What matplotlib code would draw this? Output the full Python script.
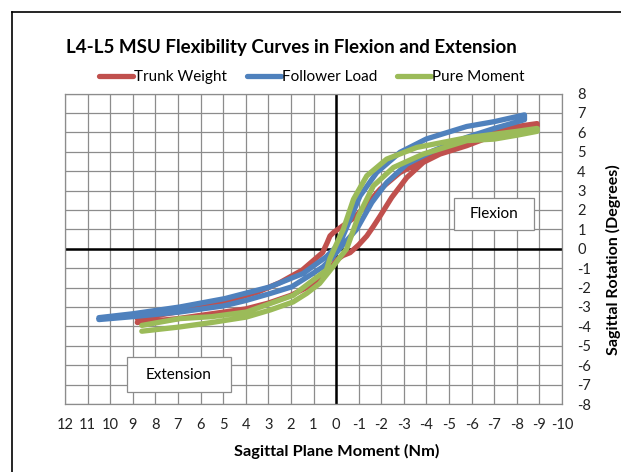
import matplotlib.pyplot as plt
from matplotlib.lines import Line2D
from matplotlib.patches import Rectangle

plt.rcParams["font.family"] = ["Lato", "DejaVu Sans"]
plt.rcParams["axes.unicode_minus"] = False

# Trunk Weight loop: loading branch (to flexion), then unloading branch back
trunk_x = [8.8, 7, 5.5, 4, 3, 2, 1.3, 0.7, 0.3, 0, -0.3, -0.62, -1.0, -1.36, -1.65, -1.95, -2.46,
           -3.13, -3.86, -4.6, -5.78, -7, -8, -8.9,
           -8.9, -8, -7, -5.78, -4.3, -3.57, -2.83, -1.95, -1.3, -0.8, -0.32, 0.1, 0.27, 0.4,
           0.6, 1.0, 1.5, 2.5, 3.5, 5, 6.5, 8, 8.8]
trunk_y = [-3.8, -3.6, -3.35, -3.1, -2.8, -2.4, -2.0, -1.6, -1.1, -0.6, -0.35, -0.2, 0.2, 0.66, 1.15, 1.69, 2.64,
           3.67, 4.45, 4.88, 5.31, 5.85, 6.1, 6.35,
           6.45, 6.3, 6.0, 5.5, 4.8, 4.36, 3.93, 3.07, 2.2, 1.6, 1.2, 0.85, 0.66, 0.3,
           -0.2, -0.6, -1.1, -1.75, -2.25, -2.75, -3.15, -3.45, -3.6]

# Follower Load loop
follower_x = [10.5, 9, 6.92, 5, 3.97, 2.9, 1.98, 1.2, 0.58, 0.2, -0.3, -0.91, -1.58, -2.24, -3.13,
              -4.3, -5.78, -7, -8.34,
              -8.34, -7, -5.78, -4.0, -2.83, -1.8, -1.06, -0.62, -0.18, 0.43, 1.47, 2.94, 4.93,
              6.92, 9, 10.5]
follower_y = [-3.65, -3.5, -3.26, -2.95, -2.66, -2.3, -1.97, -1.4, -0.93, -0.5, 0.2, 1.0, 2.38, 3.41, 4.36,
              5.05, 5.74, 6.2, 6.65,
              6.9, 6.55, 6.3, 5.66, 4.97, 3.93, 2.72, 1.52, 0.31, -0.41, -1.28, -1.97, -2.57,
              -3.0, -3.35, -3.55]

# Pure Moment loop
pure_x = [8.6, 6.92, 5.5, 3.97, 2.9, 1.9, 1.3, 0.73, 0.14, -0.2, -0.47, -0.99, -1.65, -2.54, -3.86,
          -5.78, -7, -8, -8.9,
          -8.9, -8, -7, -5.78, -3.57, -2.24, -1.36, -0.77, -0.32, 0, 0.27, 0.43, 1.0, 1.9, 3.97,
          5.5, 6.92, 8.6]
pure_y = [-4.25, -4.03, -3.8, -3.52, -3.15, -2.74, -2.3, -1.79, -0.93, -0.4, 0, 1.69, 3.24, 4.19, 4.88,
          5.57, 5.65, 5.85, 6.05,
          6.2, 6.05, 5.9, 5.72, 5.22, 4.62, 3.76, 2.55, 1.0, 0.2, -0.5, -1.1, -1.6, -2.4, -3.26,
          -3.5, -3.6, -3.95]

x_ticks = list(range(12, -11, -1))
y_ticks = list(range(-8, 9))

series = [
    ("Trunk Weight", trunk_x, trunk_y, "#C0504D"),
    ("Follower Load", follower_x, follower_y, "#4F81BD"),
    ("Pure Moment", pure_x, pure_y, "#9BBB59"),
]

fig = plt.figure(figsize=(6.21, 4.72), dpi=100)
ax = fig.add_axes([65 / 621, 1 - 404 / 472, 497 / 621, 310.5 / 472])

grid_color = "#8c8c8c"
for name, xs, ys, color in series:
    ax.plot(xs, ys, color=color, lw=3.8, solid_capstyle="round",
            solid_joinstyle="round", label=name, zorder=3)

ax.set_xlim(12, -10)
ax.set_ylim(-8, 8)
ax.set_xticks(x_ticks)
ax.set_yticks(y_ticks)
ax.set_xticklabels([str(t) for t in x_ticks])
ax.set_yticklabels([str(t) for t in y_ticks])
ax.yaxis.tick_right()
ax.tick_params(axis="both", length=0, labelsize=10.5, colors="#222222")
ax.tick_params(axis="x", pad=10)
ax.tick_params(axis="y", pad=11)
ax.grid(True, color=grid_color, lw=0.9, zorder=0)
ax.set_axisbelow(True)
for sp in ax.spines.values():
    sp.set_color(grid_color)
    sp.set_linewidth(0.9)

ax.axhline(0, color="black", lw=1.8, zorder=2)
ax.axvline(0, color="black", lw=1.8, zorder=2)

# axis titles
fig.text(337 / 621, 1 - 451 / 472, "Sagittal Plane Moment (Nm)", fontsize=11.8,
         fontweight="bold", ha="center", va="center")
fig.text(613 / 621, 1 - 260 / 472, "Sagittal Rotation (Degrees)", fontsize=11.5,
         fontweight="bold", ha="center", va="center", rotation=90)

# text boxes
ax.add_patch(Rectangle((-5.2, 0.97), -3.58, 1.65, facecolor="white",
                       edgecolor="#8c8c8c", lw=0.9, zorder=4))
ax.text(-6.99, 1.8, "Flexion", ha="center", va="center", fontsize=11, zorder=5)
ax.add_patch(Rectangle((9.27, -7.38), -4.6, 1.8, facecolor="white",
                       edgecolor="#8c8c8c", lw=0.9, zorder=4))
ax.text(6.97, -6.48, "Extension", ha="center", va="center", fontsize=11, zorder=5)

fig.text(66 / 621, 1 - 48 / 472, "L4-L5 MSU Flexibility Curves in Flexion and Extension",
         fontsize=13.5, fontweight="bold", ha="left", va="center")

fig.legend(loc="center", bbox_to_anchor=(312 / 621, 1 - 77 / 472), ncol=3,
           frameon=False, fontsize=11, handlelength=2.2, handletextpad=0.1,
           columnspacing=1.3)

# outer chart border (left and top edges visible)
fig.add_artist(Line2D([12 / 621, 12 / 621], [0, 1 - 12 / 472], color="black",
                      lw=1.2, transform=fig.transFigure))
fig.add_artist(Line2D([12 / 621, 1], [1 - 12 / 472, 1 - 12 / 472], color="black",
                      lw=1.2, transform=fig.transFigure))

fig.savefig("out.png", dpi=100)
